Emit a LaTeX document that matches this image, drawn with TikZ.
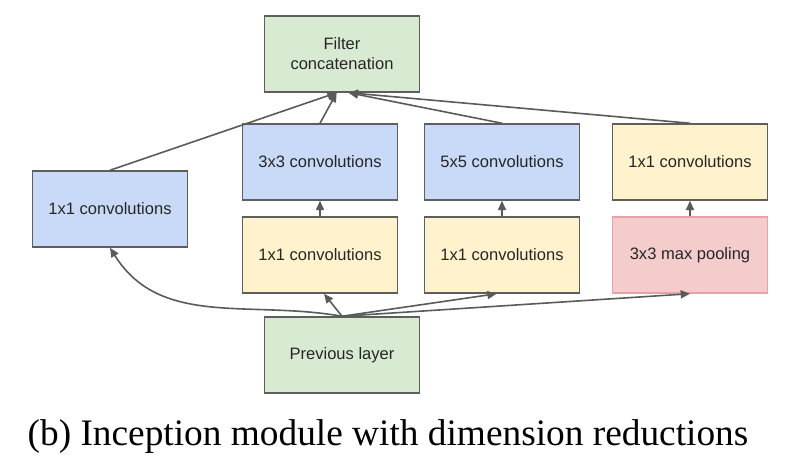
\documentclass[tikz,border=0pt]{standalone}
\usepackage{fontspec}
\setmainfont{Liberation Serif}
\newfontfamily\boxfont{Liberation Sans}
\usetikzlibrary{arrows.meta}
\definecolor{greenfill}{HTML}{D9EAD3}
\definecolor{bluefill}{HTML}{C9DAF8}
\definecolor{yellowfill}{HTML}{FFF2CC}
\definecolor{redfill}{HTML}{F4CCCC}
\definecolor{redline}{HTML}{E6A3A3}
\definecolor{boxline}{HTML}{5E5E5E}
\definecolor{linkgray}{HTML}{5A5A5A}
\definecolor{textgray}{HTML}{262626}

\begin{document}
\begin{tikzpicture}[x=0.75pt,y=-0.75pt,
    box/.style={draw=boxline, line width=1.1pt, minimum width=116pt, minimum height=57pt,
      inner sep=0pt, align=center, text=textgray, font=\boxfont\fontsize{12.4}{15}\selectfont},
    link/.style={draw=linkgray, line width=1.2pt, -{Triangle[length=7pt,width=6pt]}}]
    %%%%% frame %%%%%
    \useasboundingbox (0,0) rectangle (793,473);

    %%%%% boxes %%%%%
    \node[box, fill=greenfill] (filt) at (342,54) {Filter\\concatenation};

    \node[box, fill=bluefill] (convl) at (110,209) {1x1 convolutions};
    \node[box, fill=bluefill] (conv3) at (320,162) {3x3 convolutions};
    \node[box, fill=bluefill] (conv5) at (502,162) {5x5 convolutions};
    \node[box, fill=yellowfill] (convr) at (690,162) {1x1 convolutions};

    \node[box, fill=yellowfill] (red3) at (320,255) {1x1 convolutions};
    \node[box, fill=yellowfill] (red5) at (502,255) {1x1 convolutions};
    \node[box, fill=redfill, draw=redline] (pool) at (690,255) {3x3 max pooling};

    \node[box, fill=greenfill] (prev) at (342,355) {Previous layer};

    %%%%% links up to the concatenation %%%%%
    \draw[link] (convl.north) -- ([xshift=-4pt]filt.south);
    \draw[link] (conv3.north) -- ([xshift=-4pt]filt.south);
    \draw[link] (conv5.north) -- ([xshift=5pt]filt.south);
    \draw[link] (convr.north) -- ([xshift=5pt]filt.south);

    \draw[link] (red3.north) -- (conv3.south);
    \draw[link] (red5.north) -- (conv5.south);
    \draw[link] (pool.north) -- (convr.south);

    %%%%% links from the previous layer %%%%%
    \draw[link] (prev.north) to[out=170, in=-58] (convl.south);
    \draw[link] (prev.north) -- ([xshift=3pt]red3.south);
    \draw[link] (prev.north) -- ([xshift=-4pt]red5.south);
    \draw[link] (prev.north) -- (pool.south);

    %%%%% caption %%%%%
    \node[anchor=base, font=\fontsize{28}{34}\selectfont] (cap) at (388,446)
      {(b) Inception module with dimension reductions};
\end{tikzpicture}
\end{document}
